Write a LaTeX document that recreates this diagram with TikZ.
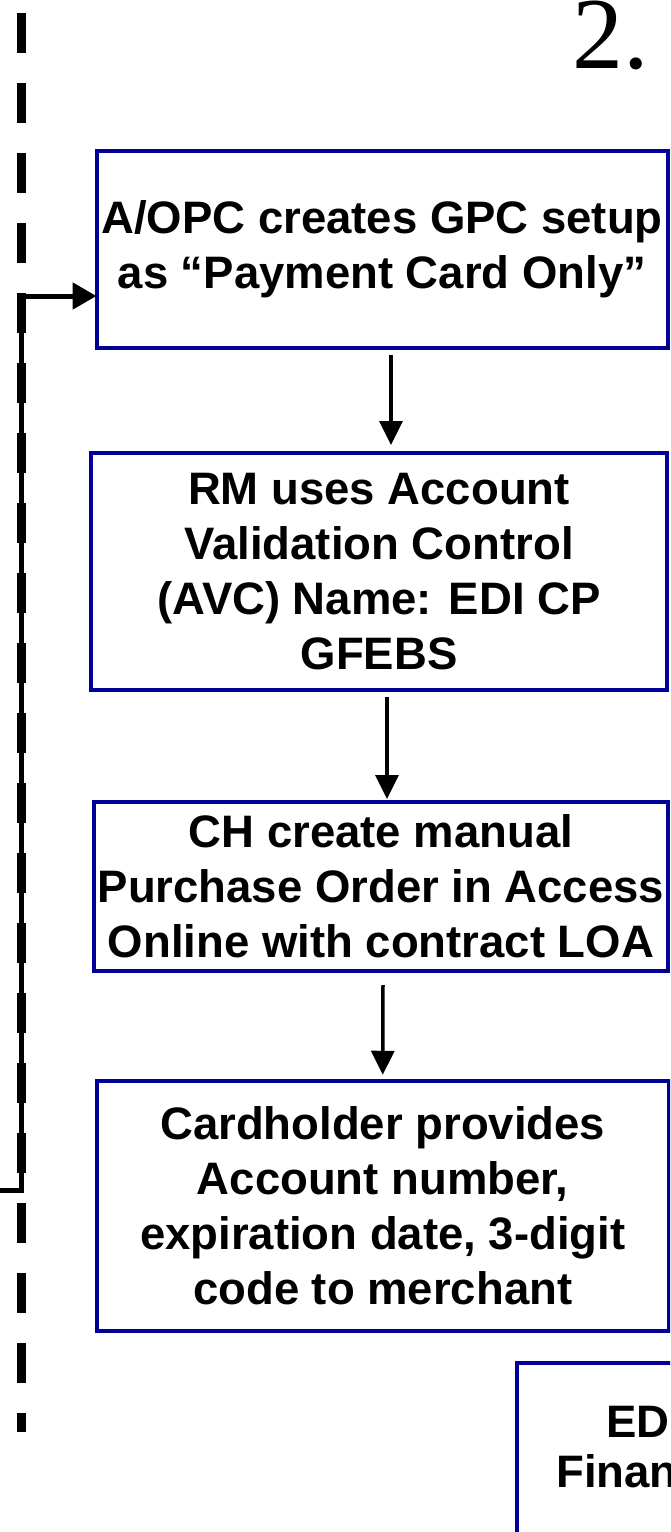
\documentclass[tikz,border=0pt]{standalone}
\usepackage{fontspec}
\setmainfont{Liberation Sans}
\newfontfamily\serifnum{Liberation Serif}
\usetikzlibrary{arrows.meta,positioning}
\definecolor{boxblue}{RGB}{0,0,153}
\tikzset{
  stepbox/.style={draw=boxblue, line width=4pt, inner sep=0pt, outer sep=0pt, align=center,
    font=\fontsize{45.5}{55}\selectfont\bfseries},
  flow/.style={line width=3.5pt, -{Triangle[length=24pt,width=23pt]}},
  feedback/.style={line width=5pt, line join=miter, -{Triangle[length=24pt,width=26pt]}},
}
\begin{document}
\begin{tikzpicture}[x=1pt,y=-1pt]
\useasboundingbox (0,0) rectangle (670,1532);
\clip (0,0) rectangle (670,1532);
% swimlane border
\draw[line width=9pt, dash pattern=on 40pt off 30pt] (21.5,13) -- (21.5,1432);
\node[anchor=base west, inner sep=0pt, font=\serifnum\fontsize{102}{102}\selectfont] (num) at (572,68) {2.};
% steps
\node[stepbox, minimum width=571pt, minimum height=197pt] (setup) at (382,249) {A/OPC creates GPC setup\\as “Payment Card Only”};
\node[stepbox, minimum width=576pt, minimum height=237pt] (avc) at (379,571.5) {RM uses Account\\Validation Control\\(AVC) Name: EDI CP\\GFEBS};
\node[stepbox, minimum width=574pt, minimum height=169pt] (order) at (381,886.5) {CH create manual\\Purchase Order in Access\\Online with contract LOA};
\node[stepbox, minimum width=571.5pt, minimum height=249.5pt] (card) at (382.75,1206) {Cardholder provides\\Account number,\\expiration date, 3-digit\\code to merchant};
\node[stepbox, anchor=north west, minimum width=300pt, minimum height=300pt] (edi) at (517,1363) {};
\node[anchor=base west, inner sep=0pt, font=\fontsize{45.5}{55}\selectfont\bfseries] (editxt) at (606,1437) {EDI};
\node[anchor=base west, inner sep=0pt, font=\fontsize{45.5}{55}\selectfont\bfseries] (fintxt) at (556,1487) {Financial};
% arrows
\draw[flow] ([xshift=9pt,yshift=-7.5pt]setup.south) -- ([xshift=12pt,yshift=8pt]avc.north);
\draw[flow] ([xshift=8pt,yshift=-7pt]avc.south) -- ([xshift=6pt,yshift=3pt]order.north);
\draw[flow] ([xshift=2pt,yshift=-14pt]order.south) -- ([xshift=0pt,yshift=6.5pt]card.north);
% return line
\coordinate (fbin) at (0,1190);
\coordinate (fbturn) at (21,296);
\draw[feedback] (fbin) -| (fbturn) -- (fbturn -| setup.west);
\end{tikzpicture}
\end{document}
